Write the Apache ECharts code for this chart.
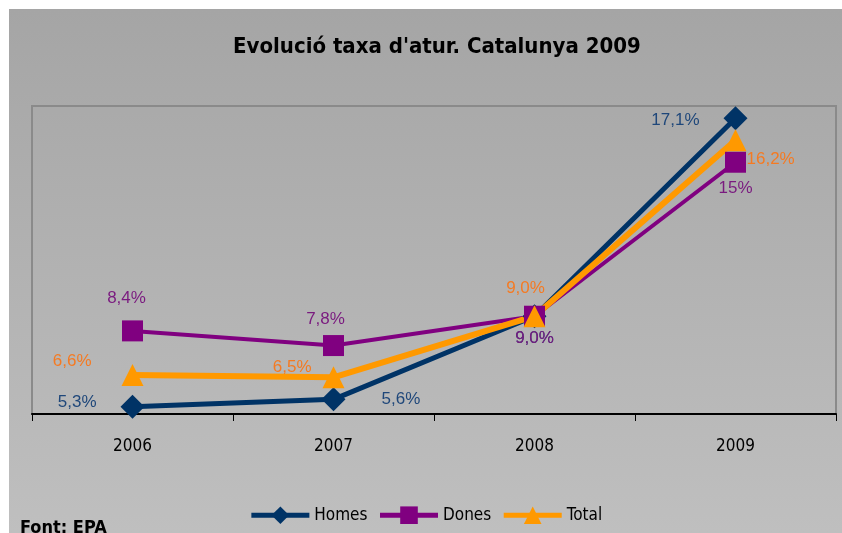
<!DOCTYPE html>
<html>
<head>
    <meta charset="utf-8">
    <title>ECharts</title>
    <script src="https://cdn.jsdelivr.net/npm/echarts@6/dist/echarts.min.js"></script>
</head>
<body style="background-color:#ffffff;margin:0px;">
    <div id="main" style="position:absolute;left:9px;top:9px;width:833px;height:524px;"></div>
    <script type="text/javascript">
        // data
        var years = ['2006', '2007', '2008', '2009'];
        var homes = [5.3, 5.6, 9.0, 17.1];
        var dones = [8.4, 7.8, 9.0, 15.3];
        var total = [6.6, 6.5, 9.0, 16.2];
        // text shown on the chart for the 2009 "Dones" point
        var donesText = ['8,4%', '7,8%', '9,0%', '15%'];

        var narrow = "'DejaVu Sans Condensed', 'Liberation Sans Narrow', sans-serif";

        function pct(v) {
            return v.toFixed(1).replace('.', ',') + '%';
        }

        // label placement per point: [position, distance, offset]
        function withLabels(values, color, places, texts) {
            var out = [];
            for (var i = 0; i < values.length; i++) {
                var p = places[i];
                out.push({
                    value: values[i],
                    label: {
                        show: true,
                        position: p[0],
                        distance: p[1],
                        offset: p[2],
                        color: color,
                        fontSize: 17,
                        fontFamily: "'Liberation Sans', Arial, sans-serif",
                        formatter: texts ? texts[i] : pct(values[i])
                    }
                });
            }
            return out;
        }

        var myChart = echarts.init(document.getElementById('main'));

        var option = {
            backgroundColor: new echarts.graphic.LinearGradient(0, 0, 0, 1, [
                {offset: 0, color: '#a5a5a5'},
                {offset: 1, color: '#bfbfbf'}
            ]),
            animation: false,
            title: {
                text: "Evolució taxa d'atur. Catalunya 2009",
                left: 219,
                top: 22,
                textStyle: {
                    fontFamily: narrow,
                    fontSize: 22,
                    fontWeight: 'bold',
                    color: '#000000'
                }
            },
            legend: {
                bottom: 4,
                left: 'center',
                itemWidth: 58,
                itemHeight: 22,
                itemGap: 10,
                lineStyle: {width: 5},
                textStyle: {
                    fontFamily: narrow,
                    fontSize: 17,
                    color: '#000000'
                },
                data: ['Homes', 'Dones', 'Total']
            },
            grid: {
                left: 23,
                top: 97,
                right: 6,
                bottom: 119,
                show: true,
                borderColor: '#8a8a8a',
                borderWidth: 2,
                backgroundColor: 'transparent'
            },
            xAxis: {
                type: 'category',
                data: years,
                boundaryGap: true,
                axisLine: {lineStyle: {color: '#000000', width: 2}},
                axisTick: {show: true, length: 7, lineStyle: {color: '#000000', width: 1}},
                axisLabel: {
                    margin: 24,
                    fontFamily: narrow,
                    fontSize: 17,
                    color: '#000000'
                }
            },
            yAxis: {
                type: 'value',
                min: 5,
                max: 17.6,
                show: true,
                axisLine: {show: false},
                axisTick: {show: false},
                axisLabel: {show: false},
                splitLine: {show: false}
            },
            graphic: [{
                type: 'text',
                left: 11,
                top: 510,
                style: {
                    text: 'Font: EPA',
                    font: "bold 18px " + narrow,
                    fill: '#000000'
                }
            }],
            series: [{
                name: 'Homes',
                type: 'line',
                symbol: 'diamond',
                symbolSize: 24,
                lineStyle: {width: 5, color: '#003366'},
                itemStyle: {color: '#003366'},
                data: withLabels(homes, '#1f477a', [
                    ['left', 24, [0, -4]],
                    ['right', 36, [0, 0]],
                    ['bottom', 1.5, [0, 0]],
                    ['left', 24, [0, 2]]
                ])
            }, {
                name: 'Dones',
                type: 'line',
                symbol: 'rect',
                symbolSize: 21,
                lineStyle: {width: 4, color: '#800080'},
                itemStyle: {color: '#800080'},
                data: withLabels(dones, '#7a1a7f', [
                    ['top', 14, [-6, 0]],
                    ['top', 7, [-8, 0]],
                    ['bottom', 3, [0, 0]],
                    ['bottom', 7, [0, 0]]
                ], donesText)
            }, {
                name: 'Total',
                type: 'line',
                symbol: 'triangle',
                symbolSize: 22,
                lineStyle: {width: 6, color: '#ff9900'},
                itemStyle: {color: '#ff9900'},
                data: withLabels(total, '#f57a22', [
                    ['left', 30, [0, -14]],
                    ['left', 11, [0, -10]],
                    ['top', 8, [-9, 0]],
                    ['right', 0, [0, 19]]
                ])
            }]
        };

        myChart.setOption(option);
    </script>
</body>
</html>
